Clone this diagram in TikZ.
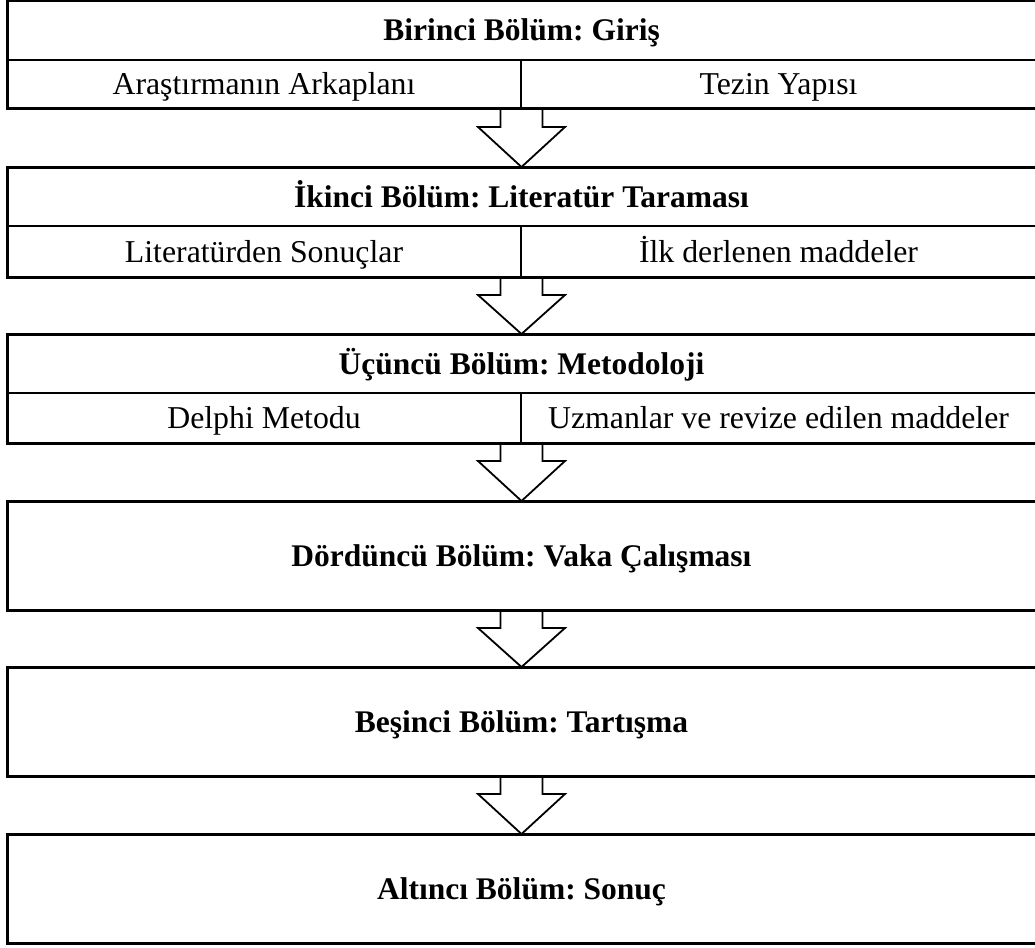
\documentclass[tikz,border=0pt]{standalone}
\usepackage{fontspec}
\setmainfont{Liberation Serif}
\usetikzlibrary{calc,fit}
\begin{document}
\frenchspacing
\begin{tikzpicture}[x=1pt,y=-1pt,
  every node/.style={inner sep=0pt, outer sep=0pt, text height=21pt, text depth=0pt},
  txt/.style={font=\fontsize{31.8}{36}\selectfont},
  hdr/.style={draw, line width=2pt, font=\fontsize{31.5}{36}\selectfont\bfseries,
              minimum width=1029pt, minimum height=#1},
  cellL/.style={txt, draw, line width=2pt, minimum width=514pt, minimum height=#1},
  cellR/.style={txt, draw, line width=2pt, minimum width=515pt, minimum height=#1},
  frame/.style={draw, line width=3pt},
  bigbox/.style={frame, font=\fontsize{31.5}{36}\selectfont\bfseries,
                 minimum width=1029pt, minimum height=109pt},
  flowarrow/.style={draw, fill=white, line width=1.8pt, line join=miter}
]
\useasboundingbox (0,0) rectangle (1035,947);
\fill[white] (0,0) rectangle (1035,947);

% chapter 1
\node[hdr=59.5pt] (t1) at (521.5,30.25) {Birinci Bölüm: Giriş};
\node[cellL=49pt] (a1) at (264,84.5) {Araştırmanın Arkaplanı};
\node[cellR=49pt] (b1) at (778.5,84.5) {Tezin Yapısı};
\node[fit=(t1)(a1)(b1)] (c1) {};

% chapter 2
\node[hdr=59pt] (t2) at (521.5,196.5) {İkinci Bölüm: Literatür Taraması};
\node[cellL=51pt] (a2) at (264,251.5) {Literatürden Sonuçlar};
\node[cellR=51pt] (b2) at (778.5,251.5) {İlk derlenen maddeler};
\node[fit=(t2)(a2)(b2)] (c2) {};

% chapter 3
\node[hdr=59pt] (t3) at (521.5,363.5) {Üçüncü Bölüm: Metodoloji};
\node[cellL=50pt] (a3) at (264,418) {Delphi Metodu};
\node[cellR=50pt] (b3) at (778.5,418) {Uzmanlar ve revize edilen maddeler};
\node[fit=(t3)(a3)(b3)] (c3) {};

% chapters 4-6
\node[bigbox] (c4) at (521.5,555.5) {Dördüncü Bölüm: Vaka Çalışması};
\node[bigbox] (c5) at (521.5,721.5) {Beşinci Bölüm: Tartışma};
\node[bigbox] (c6) at (521.5,888.5) {Altıncı Bölüm: Sonuç};

% block arrows between chapters
\foreach \s/\t in {c1/c2,c2/c3,c3/c4,c4/c5,c5/c6}{
  \draw[flowarrow] ($(\s.south)+(-21,0)$) -- ++(0,18) -- ++(-22.5,0)
    -- (\t.north) -- ($(\s.south)+(43.5,18)$) -- ++(-22.5,0)
    -- ($(\s.south)+(21,0)$);
}

% outer frames on top
\foreach \c in {c1,c2,c3}{
  \draw[frame] (\c.north west) rectangle (\c.south east);
}
\draw[frame] (c4.north west) rectangle (c4.south east);
\draw[frame] (c5.north west) rectangle (c5.south east);
\draw[frame] (c6.north west) rectangle (c6.south east);
\end{tikzpicture}
\end{document}
